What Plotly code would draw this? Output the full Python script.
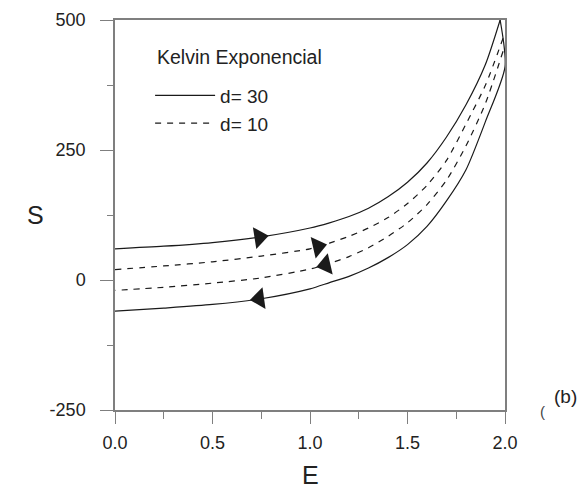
import plotly.graph_objects as go

# d = 30 (solid) loop: loading branch then unloading branch
e30_up = [0, 0.25, 0.5, 0.75, 1.0, 1.1, 1.2, 1.3, 1.4, 1.5, 1.6, 1.7, 1.8, 1.9, 1.975]
s30_up = [60, 65, 72, 83, 100, 110, 122, 138, 160, 188, 225, 275, 337, 415, 500]
e30_dn = [1.975, 2.0, 1.9, 1.8, 1.7, 1.6, 1.5, 1.4, 1.3, 1.2, 1.1, 1.0, 0.75, 0.5, 0.25, 0]
s30_dn = [500, 410, 305, 212, 152, 103, 68, 43, 23, 7, -5, -17, -36, -47, -54, -60]

# d = 10 (dashed) loop
e10_up = [0, 0.25, 0.5, 0.75, 1.0, 1.1, 1.2, 1.3, 1.4, 1.5, 1.6, 1.7, 1.8, 1.9, 1.99]
s10_up = [20, 27, 35, 46, 60, 71, 84, 100, 120, 147, 182, 230, 300, 375, 465]
e10_dn = [1.99, 1.9, 1.8, 1.7, 1.6, 1.5, 1.4, 1.3, 1.2, 1.1, 1.0, 0.75, 0.5, 0.25, 0]
s10_dn = [440, 340, 258, 192, 145, 110, 84, 62, 45, 32, 21, 4, -6, -14, -20]

# direction arrows (position on curves)
arrow_e_right = [0.74, 1.04]
arrow_s_right = [82, 64]
arrow_e_left = [0.74, 1.08]
arrow_s_left = [-36, 29]

x_ticks = [0, 0.5, 1.0, 1.5, 2.0]
x_labels = ["0.0", "0.5", "1.0", "1.5", "2.0"]
y_ticks = [-250, 0, 250, 500]
y_labels = ["-250", "0", "250", "500"]

FONT = "Liberation Sans, Arial, sans-serif"
AX = "#7f7f7f"
LINE = "#1a1a1a"
DASH = "6px,6px"
SPL = dict(shape="spline", smoothing=0.7)

fig = go.Figure()
fig.add_trace(go.Scatter(x=e30_up, y=s30_up, mode="lines",
                         line=dict(color=LINE, width=1.2, **SPL), name="d= 30"))
fig.add_trace(go.Scatter(x=e10_up, y=s10_up, mode="lines",
                         line=dict(color=LINE, width=1.2, dash=DASH, **SPL), name="d= 10"))
fig.add_trace(go.Scatter(x=e30_dn, y=s30_dn, mode="lines",
                         line=dict(color=LINE, width=1.2, **SPL), showlegend=False))
fig.add_trace(go.Scatter(x=e10_dn, y=s10_dn, mode="lines",
                         line=dict(color=LINE, width=1.2, dash=DASH, **SPL), showlegend=False))
fig.add_trace(go.Scatter(x=arrow_e_right[:1], y=arrow_s_right[:1], mode="markers",
                         marker=dict(symbol="triangle-right", size=19, color=LINE, angle=-9),
                         showlegend=False))
fig.add_trace(go.Scatter(x=arrow_e_right[1:], y=arrow_s_right[1:], mode="markers",
                         marker=dict(symbol="triangle-right", size=19, color=LINE, angle=-13),
                         showlegend=False))
fig.add_trace(go.Scatter(x=arrow_e_left[:1], y=arrow_s_left[:1], mode="markers",
                         marker=dict(symbol="triangle-left", size=19, color=LINE, angle=-8),
                         showlegend=False))
fig.add_trace(go.Scatter(x=arrow_e_left[1:], y=arrow_s_left[1:], mode="markers",
                         marker=dict(symbol="triangle-left", size=19, color=LINE, angle=-13),
                         showlegend=False))

fig.update_layout(
    width=580, height=491,
    margin=dict(l=107, r=83, t=12, b=89, autoexpand=False),
    paper_bgcolor="white", plot_bgcolor="white",
    font=dict(family=FONT, size=18, color="#222"),
    showlegend=True,
    legend=dict(x=0.09, y=0.855, xanchor="left", yanchor="top",
                font=dict(size=19, color="#222"), itemwidth=60, tracegroupgap=0,
                bgcolor="rgba(0,0,0,0)"),
    xaxis=dict(range=[0, 2], tickvals=x_ticks, ticktext=x_labels, automargin=False,
               showline=True, linecolor=AX, linewidth=1.5, mirror=True,
               ticks="outside", ticklen=12, tickcolor=AX, tickwidth=1.2,
               minor=dict(dtick=0.25, ticks="outside", ticklen=7, tickcolor=AX, tickwidth=1.2),
               showgrid=False, zeroline=False, ticklabelstandoff=4,
               tickfont=dict(size=18, color="#222")),
    yaxis=dict(range=[-250, 500], tickvals=y_ticks, ticktext=y_labels, automargin=False,
               showline=True, linecolor=AX, linewidth=1.5, mirror=True,
               ticks="outside", ticklen=13, tickcolor=AX, tickwidth=1.2,
               minor=dict(dtick=125, ticks="outside", ticklen=6, tickcolor=AX, tickwidth=1.2),
               showgrid=False, zeroline=False, ticklabelstandoff=11,
               tickfont=dict(size=18, color="#222")),
    annotations=[
        dict(text="Kelvin Exponencial", xref="paper", yref="paper", x=0.103, y=0.905,
             xanchor="left", yanchor="middle", showarrow=False, font=dict(size=19.5, color="#222")),
        dict(text="S", xref="paper", yref="paper", x=-0.205, y=0.5,
             xanchor="center", yanchor="middle", showarrow=False, font=dict(size=25, color="#222")),
        dict(text="E", xref="paper", yref="paper", x=0.5, y=-0.167,
             xanchor="center", yanchor="middle", showarrow=False, font=dict(size=25, color="#222")),
        dict(text="(b)", xref="paper", yref="paper", x=1.156, y=0.035,
             xanchor="center", yanchor="middle", showarrow=False, font=dict(size=19, color="#222")),
        dict(text="(", xref="paper", yref="paper", x=1.097, y=-0.005,
             xanchor="center", yanchor="middle", showarrow=False, font=dict(size=15, color="#444")),
    ],
)

fig.write_html("out.html")
